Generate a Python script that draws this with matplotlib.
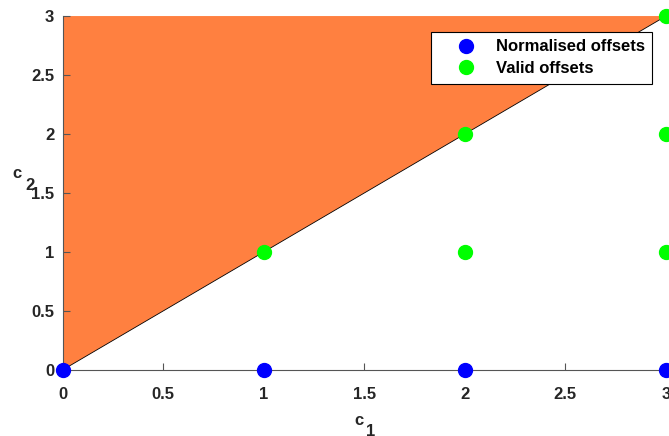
import matplotlib
matplotlib.use("Agg")
import matplotlib.pyplot as plt
from matplotlib.patches import Polygon

plt.rcParams['font.family'] = ['Liberation Sans', 'DejaVu Sans']
plt.rcParams['font.weight'] = 'bold'

W, H = 669, 436

# Region above the line c2 = c1
region_x = [0, 3, 0]
region_y = [0, 3, 3]

norm_x = [0, 1, 2, 3]
norm_y = [0, 0, 0, 0]

valid_x = [1, 2, 2, 3, 3, 3]
valid_y = [1, 1, 2, 1, 2, 3]

xticks = [0, 0.5, 1, 1.5, 2, 2.5, 3]
yticks = [0, 0.5, 1, 1.5, 2, 2.5, 3]

fig = plt.figure(figsize=(W / 100, H / 100), dpi=100)
ax = fig.add_axes([0.0935, 0.1514, 0.902, 0.8118])

poly = Polygon(list(zip(region_x, region_y)), closed=True,
               facecolor='#ff8040', edgecolor='none', zorder=1)
ax.add_patch(poly)
ax.plot([region_x[0], region_x[1]], [region_y[0], region_y[1]],
        color='black', lw=0.6, zorder=2)

ax.plot(norm_x, norm_y, 'o', color='#0000ff', ms=10, ls='none',
        clip_on=False, zorder=4, label='Normalised offsets')
ax.plot(valid_x, valid_y, 'o', color='#00ff00', ms=10, ls='none',
        clip_on=False, zorder=4, label='Valid offsets')

ax.set_xlim(0, 3)
ax.set_ylim(0, 3)
ax.set_xticks(xticks)
ax.set_yticks(yticks)
ax.set_xticklabels([f'{t:g}' for t in xticks])
ax.set_yticklabels([f'{t:g}' for t in yticks])

for s in ['top', 'right']:
    ax.spines[s].set_visible(False)
for s in ['left', 'bottom']:
    ax.spines[s].set_color('#555555')
    ax.spines[s].set_linewidth(0.8)
ax.tick_params(direction='in', length=5, width=0.8, color='#555555',
               labelsize=12, labelcolor='#262626')
ax.tick_params(axis='x', pad=12.5)
ax.tick_params(axis='y', pad=6)
for lab in ax.get_xticklabels() + ax.get_yticklabels():
    lab.set_fontweight('bold')


def label_at(px, py, s, **kw):
    """Place text with its left baseline at pixel (px, py) from the top-left."""
    fig.text(px / W, 1 - py / H, s, ha='left', va='baseline', fontsize=12,
             fontweight='bold', color='#262626', **kw)


# Axis labels with subscripts: c_1 and c_2
label_at(354, 424.5, 'c')
label_at(366, 435.5, '1')
label_at(12.5, 178, 'c')
label_at(25, 190, '2')

leg = ax.legend(loc='upper right', bbox_to_anchor=(0.977, 0.955), fontsize=12,
                frameon=True, fancybox=False, edgecolor='black', framealpha=1,
                borderpad=0.45, borderaxespad=0, handletextpad=0.2,
                labelspacing=0.4, handlelength=3.2)
leg.get_frame().set_linewidth(0.8)
for t in leg.get_texts():
    t.set_fontweight('bold')

fig.savefig('out.png', dpi=100)
